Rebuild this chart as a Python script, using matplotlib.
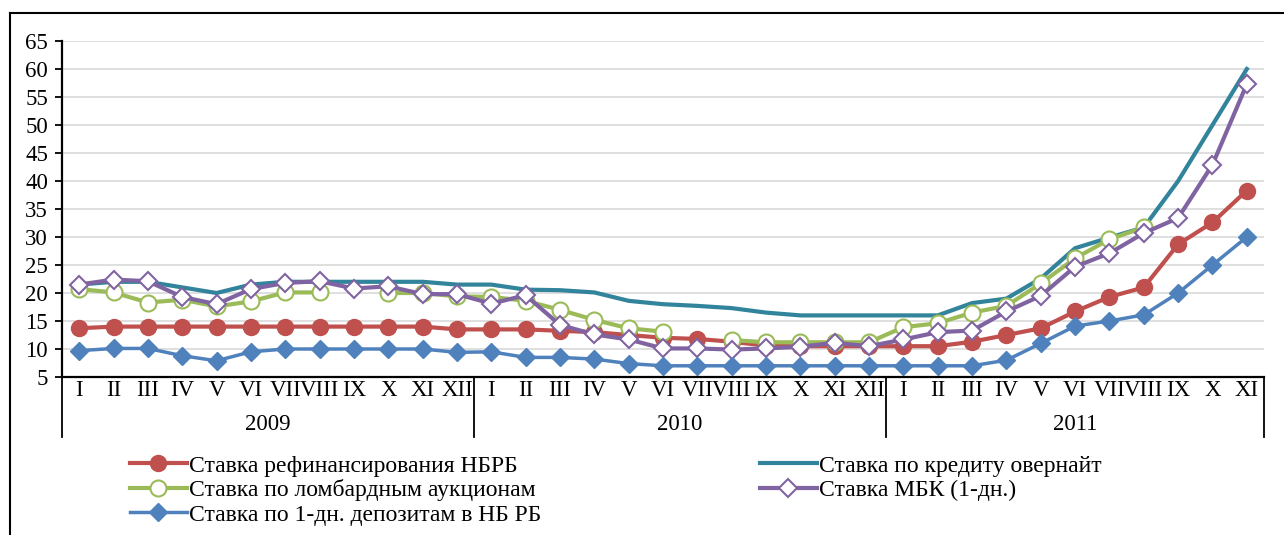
import numpy as np
import matplotlib
matplotlib.use("Agg")
import matplotlib.pyplot as plt
from matplotlib.lines import Line2D
from matplotlib.transforms import blended_transform_factory

plt.rcParams['font.family'] = ['Liberation Serif', 'DejaVu Serif']

nan = np.nan

months = ['I', 'II', 'III', 'IV', 'V', 'VI', 'VII', 'VIII', 'IX', 'X', 'XI', 'XII']
years = ['2009', '2010', '2011']
labels = months + months + months[:11]

# Ставка рефинансирования НБРБ
refin = [13.7, 14, 14, 14, 14, 14, 14, 14, 14, 14, 14, 13.5,
         13.5, 13.5, 13.25, 13, 12.5, 12, 11.8, 11.3, 10.6, 10.5, 10.5, 10.5,
         10.5, 10.5, 11.3, 12.5, 13.7, 16.7, 19.3, 21, 28.7, 32.6, 38.3]
# Ставка по кредиту овернайт
overnight = [21.5, 22, 22, 21, 20, 21.5, 22, 22, 22, 22, 22, 21.5,
             21.5, 20.6, 20.5, 20.1, 18.6, 18, 17.7, 17.3, 16.5, 16, 16, 16,
             16, 16, 18.2, 19, 22.6, 28, 29.9, 31.7, 40, 50, 60]
# Ставка по ломбардным аукционам
lombard = [20.7, 20.1, 18.3, 18.8, 17.6, 18.5, 20.1, 20.1, nan, 20, 20, 19.4,
           19.3, 18.6, 17, 15.2, 13.7, 13.1, nan, 11.6, 11.2, 11.2, 11.2, 11.2,
           13.9, 14.6, 16.5, 17.7, 21.7, 26.2, 29.6, 31.7, nan, nan, nan]
# Ставка МБК (1-дн.)
mbk = [21.5, 22.4, 22.1, 19.3, 18, 20.7, 21.8, 22.1, 20.8, 21.2, 19.8, 19.8,
       18.1, 19.6, 14.3, 12.6, 11.7, 10.1, 10.1, 9.9, 10.1, 10.4, 11.1, 10.5,
       11.7, 13, 13.3, 16.7, 19.5, 24.7, 27.1, 30.7, 33.4, 42.9, 57.3]
# Ставка по 1-дн. депозитам в НБ РБ
deposit = [9.7, 10.1, 10.1, 8.8, 7.9, 9.5, 10, 10, 10, 10, 10, 9.4,
           9.5, 8.5, 8.5, 8.2, 7.4, 7, 7, 7, 7, 7, 7, 7,
           7, 7, 7, 8, 11, 14.1, 15, 16.1, 20, 25, 30]

W, H = 1284, 535
fig = plt.figure(figsize=(W / 100, H / 100), dpi=100)
ax = fig.add_axes([62 / W, 1 - 377 / H, 1202 / W, 336 / H])

x = np.arange(len(labels))
lr, = ax.plot(x, refin, color='#C0504D', lw=3, marker='o', ms=11.5,
              mfc='#C0504D', mec='#C0504D', label='Ставка рефинансирования НБРБ')
lt, = ax.plot(x, overnight, color='#31849B', lw=3,
              label='Ставка по кредиту овернайт')
lg, = ax.plot(x, lombard, color='#9BBB59', lw=3, marker='o', ms=11.5,
              mfc='white', mec='#9BBB59', mew=1.5,
              label='Ставка по ломбардным аукционам')
lp, = ax.plot(x, mbk, color='#8064A2', lw=3, marker='D', ms=9,
              mfc='white', mec='#8064A2', mew=1.5, label='Ставка МБК (1-дн.)')
lb, = ax.plot(x, deposit, color='#4F81BD', lw=2.5, marker='D', ms=9,
              mfc='#4F81BD', mec='#4F81BD',
              label='Ставка по 1-дн. депозитам в НБ РБ')

ax.set_xlim(-0.5, len(labels) - 0.5)
ax.set_ylim(5, 65)
ax.set_yticks(range(5, 66, 5))
ax.grid(axis='y', color='#D9D9D9', lw=1.2)
ax.set_axisbelow(True)
for s in ['top', 'right']:
    ax.spines[s].set_visible(False)
for s in ['left', 'bottom']:
    ax.spines[s].set_linewidth(1.6)
ax.tick_params(axis='y', direction='out', length=5, width=1.3,
               labelsize=16.5, pad=5)
ax.set_xticks(x)
ax.set_xticklabels(labels)
ax.tick_params(axis='x', length=0, labelsize=16.5, pad=2)

# year separators and year labels below the month labels
tr = blended_transform_factory(ax.transData, ax.transAxes)
for b in [-0.5, 11.5, 23.5, len(labels) - 0.5]:
    ax.plot([b, b], [0, -60 / 336], color='black', lw=1.3,
            transform=tr, clip_on=False)
starts = [0, 12, 24]
ends = [12, 24, len(labels)]
for yr, a, b in zip(years, starts, ends):
    ax.text((a + b - 1) / 2, -47 / 336, yr, transform=tr, ha='center',
            va='center', fontsize=16.5)

# outer frame
fig.add_artist(Line2D([10 / W, 10 / W], [0, 1 - 13 / H], color='black', lw=1.5))
fig.add_artist(Line2D([10 / W, 1], [1 - 13 / H, 1 - 13 / H], color='black', lw=1.5))

leg_kw = dict(frameon=False, fontsize=17, handlelength=2.4, handletextpad=0.1,
              labelspacing=0.12, borderpad=0, borderaxespad=0, loc='upper left')
fig.legend(handles=[lr, lg, lb], bbox_to_anchor=(130 / W, 1 - 455 / H), **leg_kw)
fig.legend(handles=[lt, lp], bbox_to_anchor=(760 / W, 1 - 455 / H), **leg_kw)

fig.savefig('out.png', dpi=100)
